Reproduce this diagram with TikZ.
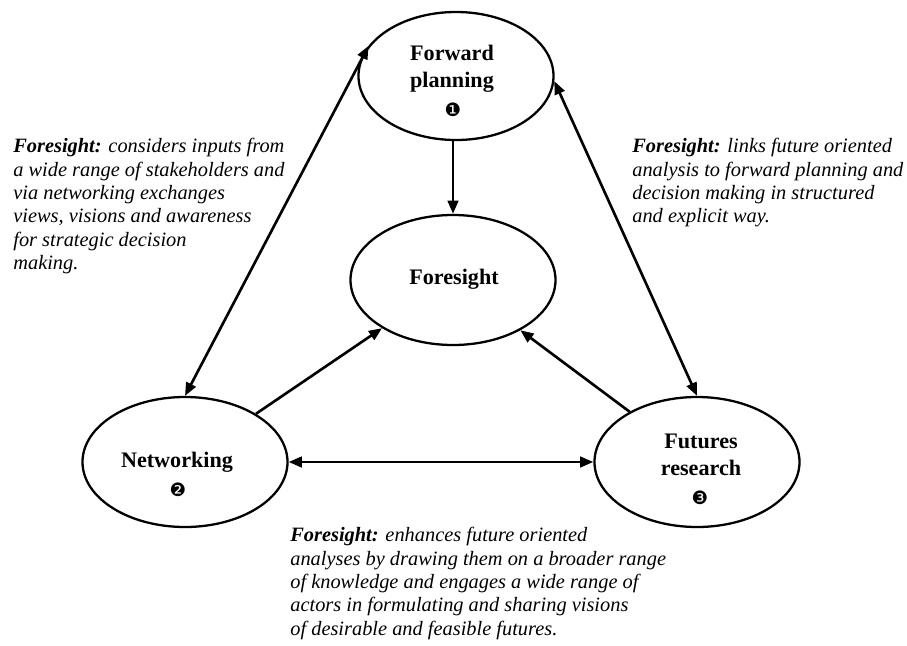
\documentclass[tikz,border=0pt]{standalone}
\usepackage{fontspec}
\setmainfont{Liberation Serif}
\newfontfamily\dingfont{DejaVu Sans}
\usetikzlibrary{shapes.geometric,arrows.meta}

\begin{document}
\begin{tikzpicture}[x=0.2mm,y=-0.2mm,
    blob/.style={ellipse,draw,line width=1.3pt,minimum width=4.1cm,
        minimum height=2.6cm,inner sep=0pt},
    word/.style={align=center,inner sep=0pt,
        font=\fontsize{12.6}{15.3}\selectfont\bfseries},
    num/.style={inner sep=0pt,font=\dingfont\fontsize{10.5}{10.5}\selectfont},
    note/.style={align=left,anchor=north west,inner sep=0pt,
        font=\fontsize{11.6}{13.3}\selectfont\itshape},
    link/.style={line width=1.5pt,-{Triangle[length=7.5pt,width=6pt]}},
    both/.style={line width=1.5pt,
        {Triangle[length=7.5pt,width=6pt]}-{Triangle[length=7.5pt,width=6pt]}}]

    \useasboundingbox (0,0) rectangle (907,646);

    % the ellipses

    \node[blob,minimum width=3.9cm,minimum height=2.56cm] (fp) at (456,76) {};
    \node[blob] (fore) at (453,280) {};
    \node[blob] (net) at (185,462) {};
    \node[blob] (fr) at (697,462) {};

    \node[word] (fp-t) at (452,69) {Forward\\planning};
    \node[num] (n1) at (453,110) {❶};
    \node[word] (fore-t) at (454,279) {Foresight};
    \node[word] (net-t) at (177,462) {Networking};
    \node[num] (n2) at (178,490) {❷};
    \node[word] (fr-t) at (701,455) {Futures\\research};
    \node[num] (n3) at (700,498) {❸};

    % the texts

    \node[note] (note-l) at (13,138) {\textbf{Foresight:} considers inputs from\\
        a wide range of stakeholders and\\ via networking exchanges\\
        views, visions and awareness\\ for strategic decision\\ making.};
    \node[note] (note-r) at (632,138) {\textbf{Foresight:} links future oriented\\
        analysis to forward planning and\\ decision making in structured\\
        and explicit way.};
    \node[note] (note-b) at (290,527) {\textbf{Foresight:} enhances future oriented\\
        analyses by drawing them on a broader range\\
        of knowledge and engages a wide range of\\
        actors in formulating and sharing visions\\
        of desirable and feasible futures.};

    % the arrows

    \draw[both] (net.north) to (fp.161);
    \draw[both] (fr.north) to (fp.-3);
    \draw[link] (fp.south -| fore.north) to (fore.north);
    \draw[link] (net) to (fore);
    \draw[link] (fr) to (fore);
    \draw[both] (net) to (fr);
  \end{tikzpicture}
\end{document}
